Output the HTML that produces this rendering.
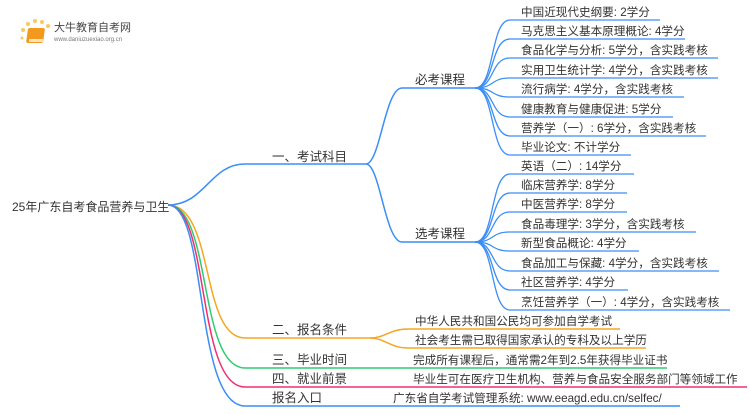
<!DOCTYPE html>
<html><head><meta charset="utf-8"><style>
body{margin:0;width:750px;height:410px;background:#fff;overflow:hidden}
svg text{font-family:"Liberation Sans","Noto Sans CJK SC",sans-serif;fill:#333}
</style></head><body>
<svg width="750" height="410" viewBox="0 0 750 410" xmlns="http://www.w3.org/2000/svg">
<g>
<circle cx="23" cy="30" r="2" fill="#f9c95c"/><circle cx="28" cy="24" r="2" fill="#f9c95c"/><circle cx="35" cy="21" r="2" fill="#f9c95c"/><circle cx="42" cy="22" r="2" fill="#f9c95c"/><circle cx="48" cy="26" r="2" fill="#f9c95c"/><circle cx="22" cy="38" r="1.5" fill="#f9c95c"/>
<rect x="32" y="28" width="17" height="15" rx="2" fill="#f39a1e" transform="skewX(-8)"/>
<rect x="29" y="39" width="14" height="3" fill="#fff" opacity=".7"/>
<text x="54" y="31" font-size="11" style="fill:#444">大牛教育自考网</text>
<text x="54" y="41" font-size="6" style="fill:#777">www.daniuzuexiao.org.cn</text>
</g>
<g fill="none" stroke-width="1.5">
<path d="M168 205 C205 205 210 164 245 164 L366 164" stroke="#3a8ef6"/>
<path d="M366 164 C380 164 385 88 402 88 L475 88" stroke="#3a8ef6"/>
<path d="M366 164 C380 164 385 242 402 242 L475 242" stroke="#3a8ef6"/>
<g stroke="#3a8ef6" stroke-width="1.3">
<path d="M475 88 C495 88 490 20 510 20 L660 20"/>
<path d="M475 88 C495 88 490 39 510 39 L685 39"/>
<path d="M475 88 C495 88 490 58 510 58 L718 58"/>
<path d="M475 88 C495 88 490 78 510 78 L718 78"/>
<path d="M475 88 C495 88 490 97 510 97 L684 97"/>
<path d="M475 88 C495 88 490 117 510 117 L673 117"/>
<path d="M475 88 C495 88 490 136 510 136 L706 136"/>
<path d="M475 88 C495 88 490 155 510 155 L631 155"/>
<path d="M475 242 C495 242 490 174 510 174 L634 174"/>
<path d="M475 242 C495 242 490 193 510 193 L627 193"/>
<path d="M475 242 C495 242 490 212 510 212 L627 212"/>
<path d="M475 242 C495 242 490 232 510 232 L696 232"/>
<path d="M475 242 C495 242 490 251 510 251 L639 251"/>
<path d="M475 242 C495 242 490 271 510 271 L719 271"/>
<path d="M475 242 C495 242 490 290 510 290 L628 290"/>
<path d="M475 242 C495 242 490 310 510 310 L730 310"/>
</g>
<path d="M168 205 C215 205 200 338 245 338 L370 338" stroke="#f5a623"/>
<path d="M370 338 C385 338 390 329 408 329 L620 329" stroke="#f5a623"/>
<path d="M370 338 C385 338 390 348 408 348 L646 348" stroke="#f5a623"/>
<path d="M168 205 C212 205 198 368 245 368 L667 368" stroke="#2ecc71"/>
<path d="M168 205 C210 205 196 387 245 387 L747 387" stroke="#f0306e"/>
<path d="M168 205 C208 205 194 406 245 406 L680 406" stroke="#3a8ef6"/>
</g>
<text x="12" y="211" font-size="12">25年广东自考食品营养与卫生</text>
<text x="272" y="161" font-size="12.5">一、考试科目</text>
<text x="415" y="84" font-size="12.5">必考课程</text>
<text x="415" y="238" font-size="12.5">选考课程</text>
<g font-size="11.6">
<text x="521" y="16">中国近现代史纲要: 2学分</text>
<text x="521" y="35">马克思主义基本原理概论: 4学分</text>
<text x="521" y="54">食品化学与分析: 5学分，含实践考核</text>
<text x="521" y="74">实用卫生统计学: 4学分，含实践考核</text>
<text x="521" y="93">流行病学: 4学分，含实践考核</text>
<text x="521" y="113">健康教育与健康促进: 5学分</text>
<text x="521" y="132">营养学（一）: 6学分，含实践考核</text>
<text x="521" y="151">毕业论文: 不计学分</text>
<text x="521" y="170">英语（二）: 14学分</text>
<text x="521" y="189">临床营养学: 8学分</text>
<text x="521" y="208">中医营养学: 8学分</text>
<text x="521" y="228">食品毒理学: 3学分，含实践考核</text>
<text x="521" y="247">新型食品概论: 4学分</text>
<text x="521" y="267">食品加工与保藏: 4学分，含实践考核</text>
<text x="521" y="286">社区营养学: 4学分</text>
<text x="521" y="306">烹饪营养学（一）: 4学分，含实践考核</text>
<text x="415" y="325">中华人民共和国公民均可参加自学考试</text>
<text x="415" y="344">社会考生需已取得国家承认的专科及以上学历</text>
<text x="413" y="364">完成所有课程后，通常需2年到2.5年获得毕业证书</text>
<text x="413" y="383">毕业生可在医疗卫生机构、营养与食品安全服务部门等领域工作</text>
<text x="393" y="402">广东省自学考试管理系统: www.eeagd.edu.cn/selfec/</text>
</g>
<g font-size="12.5">
<text x="272" y="334">二、报名条件</text>
<text x="272" y="364">三、毕业时间</text>
<text x="272" y="383">四、就业前景</text>
<text x="272" y="402">报名入口</text>
</g>
</svg>
</body></html>
